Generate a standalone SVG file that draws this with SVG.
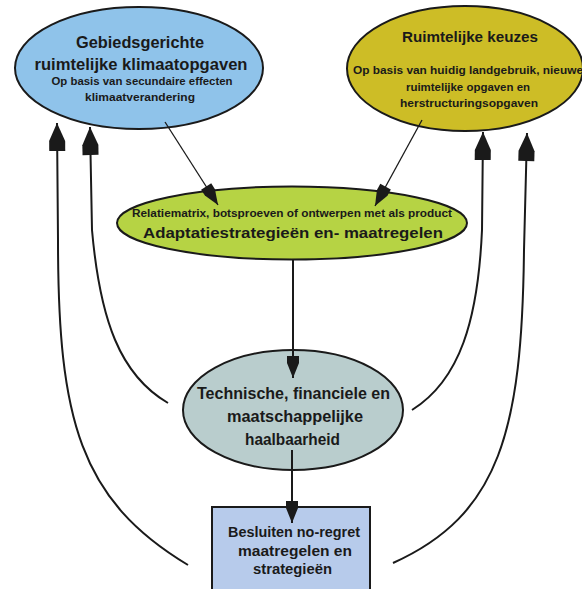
<svg xmlns="http://www.w3.org/2000/svg" width="582" height="589" viewBox="0 0 582 589">
<defs>
<style>
.node{stroke:#1a1a1a;stroke-width:2}
text{font-family:"Liberation Sans",Arial,sans-serif;font-weight:bold;fill:#1a1a1a;text-anchor:middle}
.conn{fill:none;stroke:#1a1a1a}
</style>
<marker id="big" markerUnits="userSpaceOnUse" viewBox="-30 -10 32 20" markerWidth="32" markerHeight="20" refX="0" refY="0" orient="auto" overflow="visible">
<path d="M0,0 L-18,-8 L-28,-8 L-28,8 L-18,8 Z" fill="#1a1a1a"/>
</marker>
<marker id="small" markerUnits="userSpaceOnUse" viewBox="-24 -8 26 16" markerWidth="26" markerHeight="16" refX="0" refY="0" orient="auto" overflow="visible">
<path d="M0,0 L-15,-6 L-22,-6 L-22,6 L-15,6 Z" fill="#1a1a1a"/>
</marker>
</defs>
<rect width="582" height="589" fill="#ffffff"/>

<g id="node-gebiedsgericht">
<ellipse class="node" cx="139" cy="68" rx="124" ry="61" fill="#8fc3ea"/>
<text x="140" y="48" font-size="16" textLength="128" lengthAdjust="spacingAndGlyphs">Gebiedsgerichte</text>
<text x="141" y="70" font-size="16" textLength="213" lengthAdjust="spacingAndGlyphs">ruimtelijke klimaatopgaven</text>
<text x="142" y="85" font-size="11.5" textLength="181" lengthAdjust="spacingAndGlyphs">Op basis van secundaire effecten</text>
<text x="140" y="101" font-size="11.5" textLength="110" lengthAdjust="spacingAndGlyphs">klimaatverandering</text>
</g>

<g id="node-ruimtelijke-keuzes">
<ellipse class="node" cx="465" cy="68.5" rx="118" ry="62.5" fill="#cdbd26"/>
<text x="470" y="42" font-size="15" textLength="136" lengthAdjust="spacingAndGlyphs">Ruimtelijke keuzes</text>
<text x="468" y="74" font-size="11" textLength="230" lengthAdjust="spacingAndGlyphs">Op basis van huidig landgebruik, nieuwe</text>
<text x="468" y="91" font-size="11" textLength="124" lengthAdjust="spacingAndGlyphs">ruimtelijke opgaven en</text>
<text x="469" y="107" font-size="11" textLength="138" lengthAdjust="spacingAndGlyphs">herstructuringsopgaven</text>
</g>

<g id="node-adaptatie">
<ellipse class="node" cx="292" cy="223" rx="175" ry="36.5" fill="#b6d344"/>
<text x="292" y="217" font-size="10.5" textLength="320" lengthAdjust="spacingAndGlyphs">Relatiematrix, botsproeven of ontwerpen met als product</text>
<text x="293" y="238" font-size="15" textLength="300" lengthAdjust="spacingAndGlyphs">Adaptatiestrategieën en- maatregelen</text>
</g>

<g id="node-haalbaarheid">
<ellipse class="node" cx="293" cy="410" rx="110" ry="60" fill="#b9cdcd"/>
<text x="293.5" y="399" font-size="16" textLength="193" lengthAdjust="spacingAndGlyphs">Technische, financiele en</text>
<text x="295" y="422" font-size="16" textLength="136" lengthAdjust="spacingAndGlyphs">maatschappelijke</text>
<text x="292.5" y="445" font-size="16" textLength="95" lengthAdjust="spacingAndGlyphs">haalbaarheid</text>
</g>

<g id="node-besluiten">
<rect class="node" x="212" y="507" width="158" height="100" fill="#b7cbeb"/>
<text x="294" y="537" font-size="14" textLength="132" lengthAdjust="spacingAndGlyphs">Besluiten no-regret</text>
<text x="295" y="556" font-size="14" textLength="114" lengthAdjust="spacingAndGlyphs">maatregelen en</text>
<text x="292.5" y="574" font-size="14" textLength="79" lengthAdjust="spacingAndGlyphs">strategieën</text>
</g>

<g id="connectors">
<path class="conn" stroke-width="1.3" d="M165,122 L218,205" marker-end="url(#small)"/>
<path class="conn" stroke-width="1.3" d="M422,120 L375,206" marker-end="url(#small)"/>
<path class="conn" stroke-width="2" d="M293,259 L293,378" marker-end="url(#small)"/>
<path class="conn" stroke-width="2" d="M292,450 L292,523" marker-end="url(#small)"/>
<path class="conn" stroke-width="2" d="M188,565 C80,500 58,420 58,240 L57,123" marker-end="url(#big)"/>
<path class="conn" stroke-width="2" d="M168,403 C120,375 100,320 92,230 L90,127" marker-end="url(#big)"/>
<path class="conn" stroke-width="2" d="M412,410 C460,380 478,320 482,230 L483,132" marker-end="url(#big)"/>
<path class="conn" stroke-width="2" d="M393,563 C500,515 522,430 524,250 L527,133" marker-end="url(#big)"/>
</g>
</svg>
